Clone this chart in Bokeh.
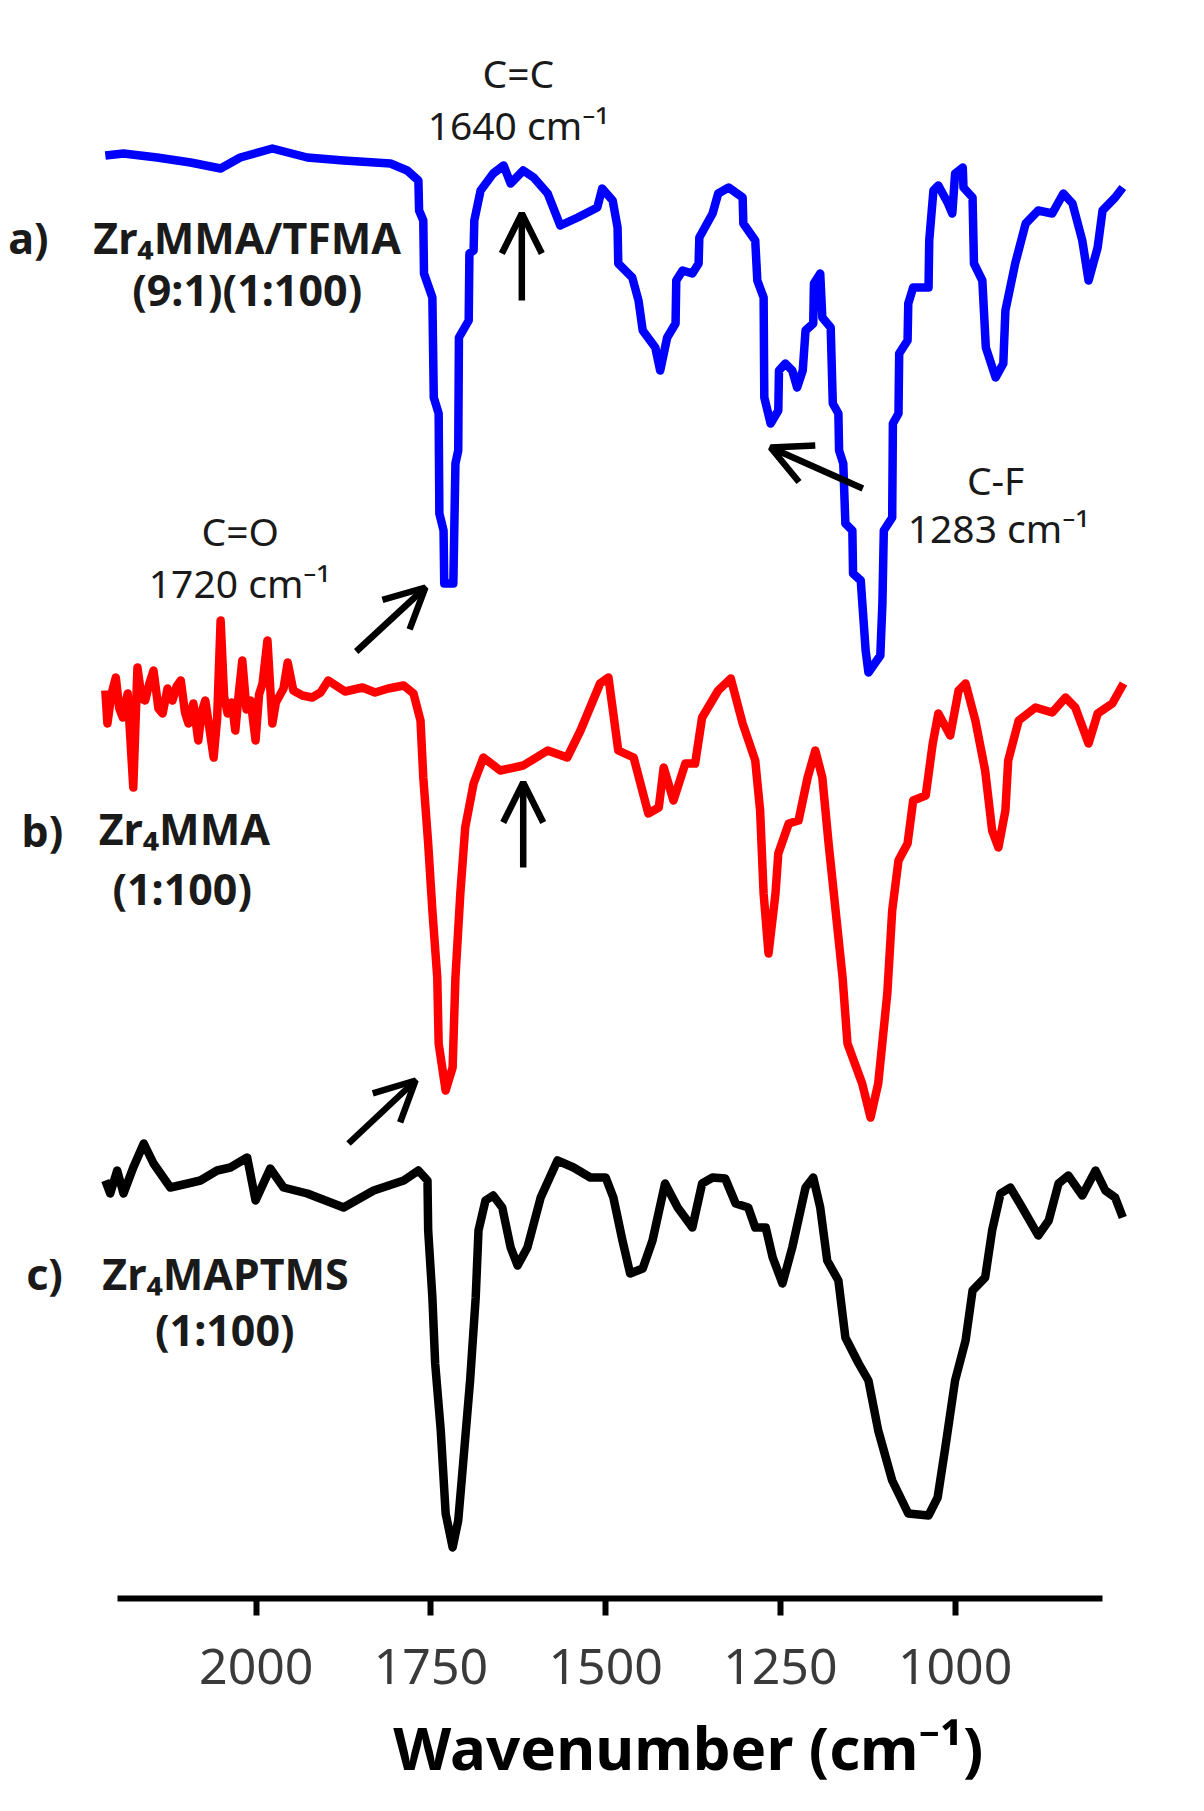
from bokeh.plotting import figure
from bokeh.models import Range1d, FixedTicker, Arrow, OpenHead, ColumnDataSource
from bokeh.core.properties import value
from bokeh.embed import file_html
from bokeh.resources import INLINE

# ---------------- data (wavenumber in cm-1, stacked transmittance in a.u.) -------------
blue_wn = [2216, 2190, 2142, 2094, 2051, 2023, 1977, 1927, 1875, 1808,
           1784, 1768, 1767, 1761, 1760, 1748, 1746, 1739, 1738, 1732,
           1731, 1718, 1715, 1711, 1710, 1696, 1695, 1689, 1688, 1679,
           1661, 1646, 1636, 1618, 1603, 1583, 1565, 1540, 1512, 1505,
           1490, 1483, 1482, 1462, 1453, 1447, 1429, 1422, 1412, 1400,
           1399, 1390, 1376, 1367, 1366, 1347, 1339, 1324, 1304, 1303,
           1286, 1283, 1274, 1273, 1264, 1253, 1252, 1243, 1233, 1226,
           1218, 1214, 1203, 1202, 1193, 1190, 1178, 1175, 1167, 1166,
           1160, 1157, 1147, 1146, 1135, 1132, 1128, 1124, 1107, 1104,
           1102, 1090, 1089, 1081, 1080, 1068, 1067, 1060, 1038, 1037,
           1031, 1024, 1010, 1004, 1000, 989, 988, 975, 973, 961,
           956, 942, 931, 928, 914, 899, 881, 861, 845, 832,
           818, 809, 796, 789, 771, 760]
blue_t = [144.3, 144.5, 144.1, 143.6, 143.0, 144.1, 145.0, 144.1, 143.8, 143.5,
          142.8, 141.8, 138.8, 137.8, 132.5, 130.1, 120.1, 118.5, 108.5, 106.8,
          101.5, 101.5, 113.5, 114.8, 126.1, 127.8, 134.5, 134.8, 137.8, 140.8,
          142.5, 143.3, 141.5, 142.8, 142.1, 140.5, 137.3, 138.1, 139.1, 141.0,
          139.8, 137.1, 133.5, 132.1, 129.8, 126.8, 125.1, 122.8, 126.1, 127.5,
          131.8, 132.8, 132.5, 133.5, 136.1, 138.5, 140.5, 141.1, 140.1, 137.5,
          135.8, 131.8, 130.1, 120.1, 117.5, 118.8, 122.8, 123.5, 122.8, 121.1,
          122.8, 126.8, 127.5, 131.5, 132.5, 128.1, 127.1, 119.5, 118.5, 114.8,
          113.5, 107.5, 106.8, 102.5, 101.8, 98.8, 94.8, 92.6, 94.3, 99.5,
          106.8, 108.1, 117.5, 118.5, 124.5, 125.8, 129.5, 131.1, 131.1, 135.8,
          140.8, 141.3, 139.5, 138.5, 142.5, 143.1, 141.1, 140.1, 133.5, 131.8,
          125.1, 122.1, 123.5, 128.8, 133.5, 137.5, 138.8, 138.5, 140.5, 139.5,
          135.8, 131.8, 135.1, 138.8, 140.1, 141.1]

red_wn = [2216, 2213, 2207, 2201, 2196, 2191, 2184, 2176, 2170, 2164,
          2159, 2153, 2147, 2140, 2134, 2127, 2120, 2114, 2108, 2102,
          2097, 2090, 2083, 2078, 2073, 2067, 2061, 2056, 2051, 2046,
          2041, 2035, 2030, 2025, 2020, 2014, 2008, 2001, 1996, 1991,
          1984, 1977, 1972, 1968, 1961, 1955, 1947, 1934, 1920, 1908,
          1897, 1873, 1848, 1830, 1811, 1789, 1775, 1765, 1761, 1754,
          1748, 1741, 1739, 1729, 1719, 1715, 1708, 1701, 1689, 1675,
          1651, 1618, 1583, 1555, 1536, 1508, 1496, 1482, 1460, 1439,
          1424, 1417, 1403, 1386, 1372, 1362, 1339, 1321, 1304, 1286,
          1279, 1274, 1267, 1257, 1253, 1238, 1224, 1211, 1200, 1190,
          1181, 1171, 1161, 1154, 1133, 1121, 1110, 1097, 1090, 1081,
          1068, 1060, 1042, 1032, 1024, 1007, 995, 985, 971, 957,
          947, 938, 928, 924, 909, 885, 861, 842, 828, 809,
          796, 775, 759]
red_t = [90.8, 87.5, 90.5, 92.1, 89.0, 88.1, 90.5, 81.1, 93.1, 90.0,
         89.8, 91.5, 92.8, 89.0, 88.5, 91.0, 89.8, 91.2, 91.8, 88.6,
         87.5, 89.5, 85.8, 88.7, 89.8, 87.0, 84.1, 88.0, 97.8, 90.2,
         88.5, 89.6, 86.8, 90.5, 93.8, 88.9, 89.8, 85.8, 90.4, 91.5,
         95.8, 87.5, 89.6, 90.1, 91.0, 93.6, 90.8, 90.3, 90.1, 90.6,
         91.8, 90.7, 91.1, 90.6, 91.0, 91.3, 90.5, 87.8, 82.1, 75.5,
         68.8, 62.1, 55.5, 50.8, 53.1, 62.1, 70.5, 77.1, 81.5, 84.1,
         82.8, 83.3, 84.8, 84.1, 86.8, 91.5, 92.1, 84.8, 84.1, 78.5,
         79.1, 83.1, 79.8, 83.5, 83.5, 88.1, 90.8, 92.0, 87.5, 83.8,
         78.8, 70.5, 64.5, 70.5, 74.5, 77.5, 77.8, 82.1, 84.8, 82.1,
         75.5, 68.8, 62.1, 55.5, 51.5, 48.1, 51.5, 60.5, 68.8, 73.8,
         75.5, 79.8, 80.3, 85.5, 88.5, 86.3, 90.8, 91.5, 87.8, 82.8,
         76.8, 75.1, 78.8, 83.8, 87.8, 89.1, 88.6, 90.1, 89.1, 85.5,
         88.5, 89.5, 91.5]

black_wn = [2216, 2209, 2199, 2190, 2176, 2161, 2147, 2123, 2098, 2080,
            2056, 2037, 2013, 2001, 1980, 1961, 1927, 1875, 1832, 1789,
            1768, 1755, 1754, 1748, 1744, 1736, 1729, 1719, 1711, 1704,
            1694, 1686, 1682, 1672, 1661, 1648, 1636, 1626, 1612, 1593,
            1569, 1546, 1522, 1500, 1489, 1476, 1465, 1447, 1433, 1415,
            1397, 1376, 1362, 1347, 1329, 1314, 1296, 1286, 1271, 1261,
            1247, 1233, 1214, 1203, 1193, 1183, 1167, 1157, 1138, 1124,
            1110, 1090, 1067, 1038, 1025, 1014, 1000, 985, 975, 957,
            947, 935, 921, 904, 881, 866, 852, 838, 818, 799,
            785, 771, 760]
black_t = [41.8, 40.5, 42.8, 40.5, 43.1, 45.5, 43.5, 41.1, 41.5, 41.8,
           42.8, 43.1, 44.1, 39.8, 43.0, 41.1, 40.5, 39.1, 40.8, 41.8,
           42.8, 41.8, 36.8, 30.1, 23.5, 16.8, 8.5, 5.1, 7.8, 13.5,
           21.8, 30.1, 36.8, 39.8, 40.3, 39.1, 35.1, 33.3, 35.1, 40.1,
           43.8, 43.1, 42.1, 42.1, 40.1, 35.8, 32.5, 33.0, 35.8, 41.5,
           39.1, 37.1, 41.5, 42.1, 42.0, 39.5, 39.1, 37.1, 37.1, 34.1,
           31.5, 35.1, 41.1, 42.1, 39.1, 33.8, 31.8, 26.1, 23.5, 21.8,
           16.8, 11.8, 8.5, 8.3, 10.1, 15.1, 21.8, 25.8, 30.8, 32.1,
           36.8, 40.5, 41.1, 39.1, 36.3, 37.8, 41.5, 42.3, 40.3, 42.8,
           40.8, 40.1, 38.1]

tick_values = [2000, 1750, 1500, 1250, 1000]
axis_span = (789, 2198)
x_title = "Wavenumber (cm\u207b\u00b9)"

sample_texts = ["a)", "Zr\u2084MMA/TFMA", "(9:1)(1:100)",
                "b)", "Zr\u2084MMA", "(1:100)",
                "c)", "Zr\u2084MAPTMS", "(1:100)"]
sample_x = [2326, 2013, 2013, 2306, 2103, 2106, 2303, 2044, 2045]
sample_y = [136.1, 136.1, 130.9, 76.8, 77.0, 71.0, 32.5, 32.5, 26.9]

band_texts = ["C=C", "1640 cm\u207b\u00b9", "C=O", "1720 cm\u207b\u00b9", "C-F", "1283 cm\u207b\u00b9"]
band_x = [1625, 1625, 2023, 2024, 942, 938]
band_y = [152.6, 147.4, 106.8, 101.6, 111.9, 107.1]

# arrows: (x_start, y_start, x_end, y_end) in data units
arrows = [(1620, 129.8, 1620, 138.5),
          (1618, 73.1, 1618, 81.6),
          (1132, 111.0, 1264, 115.1),
          (1857, 94.7, 1758, 101.1),
          (1868, 45.5, 1772, 51.8)]

# ---------------- figure ----------------
p = figure(width=1204, height=1811,
           x_range=Range1d(2366.0, 643.1), y_range=Range1d(0, 159.8),
           output_backend="svg", toolbar_location=None,
           y_axis_location=None,
           min_border_left=0, min_border_right=0, min_border_top=0,
           min_border_bottom=213)
p.outline_line_color = None
p.grid.visible = False
p.background_fill_color = "white"
p.border_fill_color = "white"

lw = 8.5
p.line(blue_wn, blue_t, line_color="#0000ff", line_width=lw, line_join="round")
p.line(red_wn, red_t, line_color="#ff0000", line_width=lw, line_join="round")
p.line(black_wn, black_t, line_color="#000000", line_width=lw, line_join="round")

ax = p.xaxis[0]
ax.ticker = FixedTicker(ticks=tick_values)
ax.bounds = axis_span
ax.axis_line_width = 6
ax.axis_line_color = "black"
ax.major_tick_line_width = 6
ax.major_tick_line_color = "black"
ax.major_tick_out = 17
ax.major_tick_in = 0
ax.minor_tick_out = 0
ax.minor_tick_in = 0
ax.major_label_text_font = "Noto Sans"
ax.major_label_text_font_size = "50px"
ax.major_label_text_color = "#3a3a3a"
ax.major_label_standoff = 33
ax.axis_label = "\u2007" * 5 + x_title
ax.axis_label_text_font = "Noto Sans"
ax.axis_label_text_font_size = "60px"
ax.axis_label_text_font_style = "bold"
ax.axis_label_text_color = "black"
ax.axis_label_standoff = 19

src_s = ColumnDataSource(dict(x=sample_x, y=sample_y, t=sample_texts))
p.text(x="x", y="y", text="t", source=src_s, text_font=value("Noto Sans"),
       text_font_size="43px", text_font_style="bold", text_color="#1a1a1a",
       text_align="center", text_baseline="middle")

src_b = ColumnDataSource(dict(x=band_x, y=band_y, t=band_texts))
p.text(x="x", y="y", text="t", source=src_b, text_font=value("Noto Sans"),
       text_font_size="39px", text_color="#1a1a1a",
       text_align="center", text_baseline="middle")

for (x0, y0, x1, y1) in arrows:
    p.add_layout(Arrow(end=OpenHead(size=40, line_width=6.5, line_color="black"),
                       x_start=x0, y_start=y0, x_end=x1, y_end=y1,
                       line_width=6.5, line_color="black"))

open("out.html", "w").write(file_html(p, INLINE))
